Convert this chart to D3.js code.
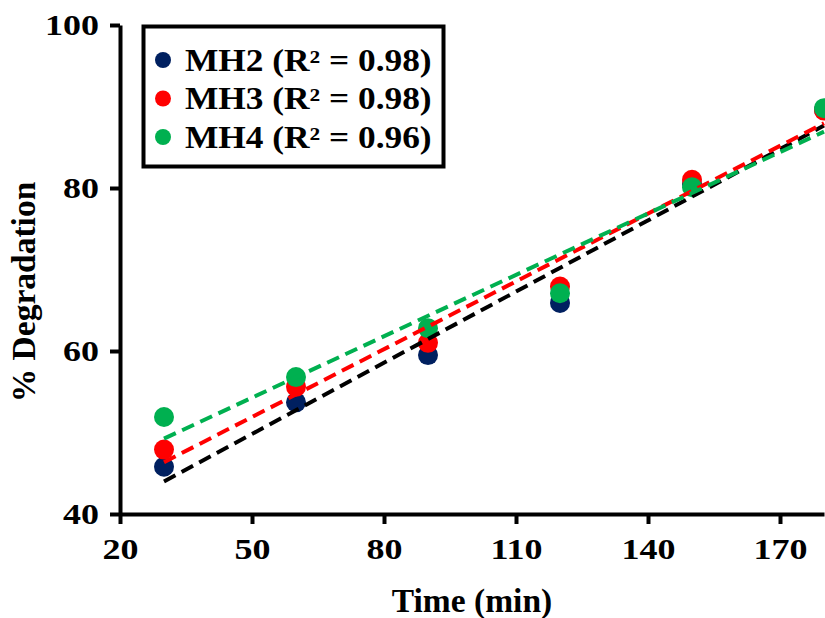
<!DOCTYPE html>
<html>
<head>
<meta charset="utf-8">
<script src="https://cdn.jsdelivr.net/npm/d3@7"></script>
<style>
  html, body { margin: 0; padding: 0; background: #fff; }
  svg text { font-family: "Liberation Serif", "Times New Roman", serif; font-weight: bold; fill: #000; }
</style>
</head>
<body>
<div id="chart"></div>
<script>
// ---------- Data ----------
const times = [30, 60, 90, 120, 150, 180];
const mh2 = [45.8, 53.7, 59.5, 65.9, 80.5, 89.6];
const mh3 = [47.9, 55.6, 61.0, 67.9, 81.0, 89.5];
const mh4 = [51.9, 56.8, 62.8, 67.1, 80.1, 89.8];
const seriesNames = ["MH2", "MH3", "MH4"];
const legendLabels = ["MH2 (R² = 0.98)", "MH3 (R² = 0.98)", "MH4 (R² = 0.96)"];
const xTicks = [20, 50, 80, 110, 140, 170];
const yTicks = [40, 60, 80, 100];

// ---------- Layout ----------
const width = 825, height = 618;
const margin = { top: 25, right: 1, bottom: 104, left: 120 };
const innerWidth = width - margin.left - margin.right;
const innerHeight = height - margin.top - margin.bottom;

const pointColors = ["#002060", "#ff0000", "#00b050"];
const lineColors = ["#000000", "#ff0000", "#00b050"];

const svg = d3.select("#chart").append("svg")
  .attr("width", width)
  .attr("height", height)
  .style("display", "block");

svg.append("rect").attr("width", width).attr("height", height).attr("fill", "#fff");

const g = svg.append("g")
  .attr("transform", `translate(${margin.left},${margin.top})`);

// ---------- Scales ----------
const x = d3.scaleLinear().domain([20, 180]).range([0, innerWidth]);
const y = d3.scaleLinear().domain([40, 100]).range([innerHeight, 0]);

const series = [mh2, mh3, mh4].map((vals, i) => ({
  name: seriesNames[i],
  points: times.map((t, j) => ({ t, v: vals[j] }))
}));

// least squares fit for the dashed trend lines
function linearFit(points) {
  const mx = d3.mean(points, d => d.t);
  const my = d3.mean(points, d => d.v);
  const sxy = d3.sum(points, d => (d.t - mx) * (d.v - my));
  const sxx = d3.sum(points, d => (d.t - mx) ** 2);
  const slope = sxy / sxx;
  return t => my + slope * (t - mx);
}

// the original font is a bit wider than Liberation Serif, stretch horizontally
function stretch(sel, ax, f) {
  sel.attr("transform", `translate(${ax},0) scale(${f},1) translate(${-ax},0)`);
}

// ---------- Points ----------
series.forEach((s, i) => {
  g.selectAll(`.dot-${s.name}`)
    .data(s.points)
    .enter()
    .append("circle")
    .attr("cx", d => x(d.t))
    .attr("cy", d => y(d.v))
    .attr("r", 10)
    .attr("fill", pointColors[i]);
});

// ---------- Trend lines ----------
const tExtent = d3.extent(times);
series.forEach((s, i) => {
  const fit = linearFit(s.points);
  g.append("line")
    .attr("x1", x(tExtent[0]))
    .attr("y1", y(fit(tExtent[0])))
    .attr("x2", x(tExtent[1]))
    .attr("y2", y(fit(tExtent[1])))
    .attr("stroke", lineColors[i])
    .attr("stroke-width", 4)
    .attr("stroke-dasharray", "13,7");
});

// ---------- Axes ----------
const xAxis = g.append("g")
  .attr("transform", `translate(0,${innerHeight})`)
  .call(d3.axisBottom(x).tickValues(xTicks).tickSize(10).tickSizeOuter(0).tickPadding(14));

const yAxis = g.append("g")
  .call(d3.axisLeft(y).tickValues(yTicks).tickSize(10).tickSizeOuter(0).tickPadding(11));

[xAxis, yAxis].forEach(ax => {
  ax.select(".domain").attr("stroke", "#000").attr("stroke-width", 4);
  ax.selectAll(".tick line").attr("stroke", "#000").attr("stroke-width", 4);
  ax.selectAll(".tick text")
    .attr("fill", "#000")
    .style("font-size", "30px")
    .style("font-family", "'Liberation Serif', 'Times New Roman', serif")
    .style("font-weight", "bold");
});
stretch(xAxis.selectAll(".tick text"), 0, 1.2);
stretch(yAxis.selectAll(".tick text"), -21, 1.2);

// ---------- Axis labels ----------
svg.append("text")
  .attr("x", margin.left + innerWidth / 2)
  .attr("y", 612)
  .attr("text-anchor", "middle")
  .style("font-size", "33.5px")
  .text("Time (min)");

svg.append("text")
  .attr("transform", "rotate(-90)")
  .attr("x", -292)
  .attr("y", 35)
  .attr("text-anchor", "middle")
  .style("font-size", "33.5px")
  .text("% Degradation");

// ---------- Legend ----------
const legend = svg.append("g").attr("transform", "translate(142,25)");

legend.append("rect")
  .attr("x", 1.5)
  .attr("y", 1.5)
  .attr("width", 300)
  .attr("height", 140)
  .attr("fill", "#fff")
  .attr("stroke", "#000")
  .attr("stroke-width", 4);

legendLabels.forEach((label, i) => {
  const cy = 35 + i * 38.5;
  legend.append("circle")
    .attr("cx", 21)
    .attr("cy", cy)
    .attr("r", 8)
    .attr("fill", pointColors[i]);
  const t = legend.append("text")
    .attr("x", 43)
    .attr("y", cy + 11)
    .style("font-size", "31px")
    .text(label);
  stretch(t, 43, 1.14);
});
</script>
</body>
</html>
